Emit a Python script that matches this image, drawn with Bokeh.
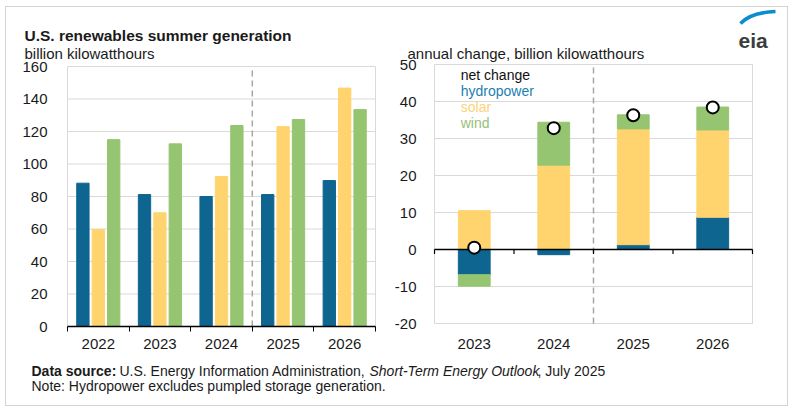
import numpy as np
from bokeh.plotting import figure
from bokeh.models import Range1d, FixedTicker, Label, LinearAxis
from bokeh.layouts import column, row
from bokeh.embed import file_html
from bokeh.resources import INLINE
from bokeh.core.properties import value

# ---------------- data ----------------
years = ["2022", "2023", "2024", "2025", "2026"]
hydro = [88.2, 81.2, 80.0, 81.2, 89.8]
solar = [59.7, 70.0, 92.3, 123.0, 146.7]
wind = [115.0, 112.4, 123.7, 127.4, 133.5]
left_ticks = [0, 20, 40, 60, 80, 100, 120, 140, 160]

chg_years = ["2023", "2024", "2025", "2026"]
hydro_chg = [-6.8, -1.4, 1.3, 8.7]
solar_chg = [10.5, 22.8, 31.3, 23.6]
wind_chg = [-3.1, 11.6, 3.8, 6.2]
net_chg = [0.5, 32.8, 36.3, 38.4]
right_ticks = [-20, -10, 0, 10, 20, 30, 40, 50]

legend_items = ["net change", "hydropower", "solar", "wind"]

# ---------------- style ----------------
FONT = "Liberation Sans"
HYDRO = "#0d6590"
SOLAR = "#ffd46e"
WIND = "#95c571"
GRID = "#d9d9d9"
TXT = "#1a1a1a"
DASH = "#a6a6a6"

TOP, FIG_H = 7, 349  # chart canvases span page y 7..356


def make_fig(page_left, width, n_cat, y_lo, y_hi, fx0, fx1, fy_hi, fy_lo):
    """Figure whose frame fills the canvas; the plotting area sits at the given page pixels."""
    sx = (fx1 - fx0) / n_cat
    sy = (fy_lo - fy_hi) / (y_hi - y_lo)
    c0, c1 = fx0 - page_left, fx1 - page_left
    r0, r1 = fy_hi - TOP, fy_lo - TOP
    xr_ = Range1d(-c0 / sx, n_cat + (width - c1) / sx)
    yr_ = Range1d(y_lo - (FIG_H - r1) / sy, y_hi + r0 / sy)
    p = figure(width=width, height=FIG_H, x_range=xr_, y_range=yr_, output_backend="svg",
               toolbar_location=None, x_axis_location=None, y_axis_location=None, min_border=0)
    p.outline_line_color = None
    p.grid.visible = False
    p.background_fill_color = "white"
    p.border_fill_color = "white"
    # page-pixel coordinate system for titles and the logo
    p.extra_x_ranges = {"px": Range1d(page_left, page_left + width)}
    p.extra_y_ranges = {"px": Range1d(TOP + FIG_H, TOP)}
    return p


def style_axis(ax):
    ax.major_label_text_font = FONT
    ax.major_label_text_font_size = "15px"
    ax.major_label_text_color = TXT


def px_text(p, x, y, t, size, style="normal", color=TXT):
    p.text(x=[x], y=[y], text=[t], x_range_name="px", y_range_name="px",
           text_font=value(FONT), text_font_style=style, text_font_size=size,
           text_color=color, text_baseline="alphabetic")


# ---------------- left chart ----------------
pL = make_fig(6, 380, len(years), 0, 160, 67, 375, 66, 326)
nL = len(years)
xl = np.arange(nL) + 0.5
pL.segment(x0=0, x1=nL, y0=left_ticks, y1=left_ticks, line_color=GRID, line_width=1)
pL.segment(x0=[0, nL], x1=[0, nL], y0=0, y1=160, line_color=GRID, line_width=1)
pL.vbar(x=xl - 0.25, top=hydro, width=0.2, color=HYDRO)
pL.vbar(x=xl, top=solar, width=0.2, color=SOLAR)
pL.vbar(x=xl + 0.25, top=wind, width=0.2, color=WIND)
pL.segment(x0=[3], x1=[3], y0=[0], y1=[160], line_color=DASH, line_dash="6 4", line_width=1.5)

yaxL = LinearAxis(fixed_location=0, ticker=FixedTicker(ticks=left_ticks), bounds=(0, 160),
                  axis_line_color=None, major_tick_line_color=None, minor_tick_line_color=None,
                  major_label_standoff=14)
style_axis(yaxL)
pL.add_layout(yaxL, "left")
xaxL = LinearAxis(fixed_location=0, bounds=(0, nL),
                  ticker=FixedTicker(ticks=list(xl), minor_ticks=list(range(nL + 1))),
                  major_label_overrides={float(x): y for x, y in zip(xl, years)},
                  major_tick_out=0, major_tick_in=0, minor_tick_out=5, minor_tick_in=0,
                  minor_tick_line_color="black", axis_line_color="black", axis_line_width=1.5,
                  major_label_standoff=7)
style_axis(xaxL)
pL.add_layout(xaxL, "below")

px_text(pL, 24, 35, "U.S. renewables summer generation", "15.5px", "bold")
px_text(pL, 24, 53, "billion kilowatthours", "15px")

# ---------------- right chart ----------------
pR = make_fig(386, 401, len(chg_years), -20, 50, 434, 752, 64, 323)
nR = len(chg_years)
xr = np.arange(nR) + 0.5
pR.segment(x0=0, x1=nR, y0=right_ticks, y1=right_ticks, line_color=GRID, line_width=1)
pR.segment(x0=[0, nR], x1=[0, nR], y0=-20, y1=50, line_color=GRID, line_width=1)
pos = np.zeros(nR)
neg = np.zeros(nR)
for vals, col in [(hydro_chg, HYDRO), (solar_chg, SOLAR), (wind_chg, WIND)]:
    v = np.array(vals, dtype=float)
    bottom = np.where(v >= 0, pos, neg)
    top = bottom + v
    pos = np.where(v >= 0, top, pos)
    neg = np.where(v < 0, top, neg)
    pR.vbar(x=xr, bottom=bottom, top=top, width=0.4, color=col)
pR.segment(x0=[2], x1=[2], y0=[-20], y1=[50], line_color=DASH, line_dash="6 4", line_width=1.5)
pR.segment(x0=[0], x1=[nR], y0=[0], y1=[0], line_color="black", line_width=1.5)
bounds = np.arange(nR + 1)
pR.segment(x0=bounds, y0=0, x1=bounds, y1=-1.2, line_color="black", line_width=1.2)
pR.scatter(x=xr, y=net_chg, size=12, fill_color="white", line_color="black", line_width=2)

yaxR = LinearAxis(fixed_location=0, ticker=FixedTicker(ticks=right_ticks), bounds=(-20, 50),
                  major_label_overrides={v: str(v) for v in right_ticks},
                  axis_line_color=None, major_tick_line_color=None, minor_tick_line_color=None,
                  major_label_standoff=12)
style_axis(yaxR)
pR.add_layout(yaxR, "left")
xaxR = LinearAxis(fixed_location=-20, bounds=(0, nR), ticker=FixedTicker(ticks=list(xr)),
                  major_label_overrides={float(x): y for x, y in zip(xr, chg_years)},
                  axis_line_color=None, major_tick_line_color=None, minor_tick_line_color=None,
                  major_label_standoff=9)
style_axis(xaxR)
pR.add_layout(xaxR, "below")

leg_colors = ["#111111", "#1d80ae", "#fdd27b", "#96c07a"]
leg_y = [47.1, 42.8, 38.4, 34.2]
for t_, c, yy in zip(legend_items, leg_colors, leg_y):
    pR.add_layout(Label(x=0.33, y=yy, text=t_, text_color=c, text_font=FONT,
                        text_font_size="14px", text_baseline="middle"))

px_text(pR, 407, 53, "annual change, billion kilowatthours", "15px")
# eia logo
pR.quadratic(x0=[740], y0=[23], cx=[750], cy=[12], x1=[775], y1=[11],
             x_range_name="px", y_range_name="px", line_color="#0a8ccf", line_width=3.5)
px_text(pR, 738, 40, "eia", "21px", "bold", "#3d3d3d")

# ---------------- footer ----------------
pf = figure(width=781, height=49, x_range=Range1d(0, 781), y_range=Range1d(49, 0),
            output_backend="svg", toolbar_location=None, min_border=0,
            x_axis_location=None, y_axis_location=None)
pf.grid.visible = False
pf.outline_line_color = None
pieces = [("Data source:", "bold", 25), ("U.S. Energy Information Administration,", "normal", 113),
          ("Short-Term Energy Outlook", "italic", 363), (", July 2025", "normal", 531)]
for txt, st, xx in pieces:
    pf.text(x=[xx], y=[14], text=[txt], text_font=value(FONT), text_font_style=st,
            text_font_size="14px", text_color=TXT, text_baseline="alphabetic")
pf.text(x=[25], y=[29], text=["Note: Hydropower excludes pumpled storage generation."],
        text_font=value(FONT), text_font_size="14px", text_color=TXT, text_baseline="alphabetic")

layout = column(row(pL, pR), pf,
                styles={"border": "1px solid #d4d4d4", "margin-left": "5px", "margin-top": "6px"})

with open("out.html", "w") as f:
    f.write(file_html(layout, INLINE))
